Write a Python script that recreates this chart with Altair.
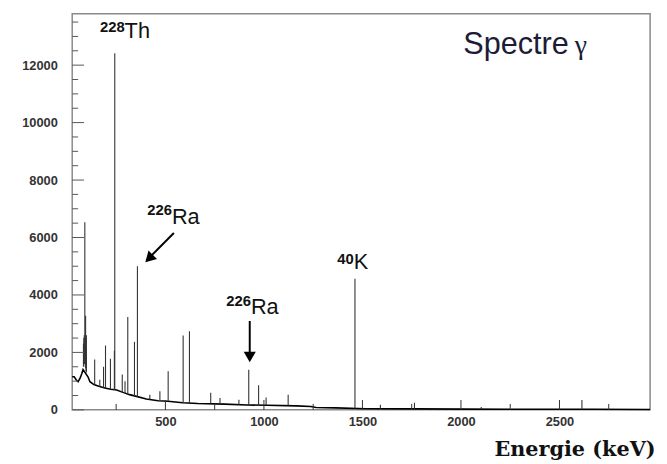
import altair as alt
import pandas as pd

# ---- continuum of the spectrum (energy keV, counts) ----
cont_E = [27, 37, 47, 57, 67, 75, 82, 107, 117, 137, 162, 192, 223, 253, 288, 318, 353,
          403, 463, 513, 588, 664, 800, 914, 1015, 1165, 1238, 1265, 1365, 1515, 1767,
          2017, 2418, 2669, 2960]
cont_counts = [1150, 1150, 1050, 980, 1100, 1250, 1400, 1150, 980, 880, 820, 760, 720, 690,
               600, 530, 470, 380, 320, 300, 250, 220, 200, 170, 160, 140, 120, 80, 70, 40,
               35, 25, 20, 20, 15]

# ---- peaks: energy, top, continuum level under it ----
peak_E = [84, 86, 88, 91, 93, 95, 97, 99, 141, 167, 186, 196, 221, 243, 241, 281, 295, 309,
          343, 358, 421, 472, 514, 590, 622, 730, 777, 873, 923, 973, 1011, 1123, 1462, 1591,
          1764, 2103, 2614]
peak_top = [2300, 2500, 2600, 6530, 2500, 3280, 2200, 2600, 1750, 1050, 1500, 2240, 1780,
            12410, 2060, 1230, 1000, 3230, 2370, 5000, 530, 650, 1340, 2590, 2740, 600, 410,
            355, 1400, 860, 430, 530, 4560, 180, 250, 100, 340]
peak_base = [1500, 1600, 1600, 1600, 1500, 1450, 1350, 1300, 870, 810, 770, 760, 720, 700,
             700, 600, 580, 540, 480, 460, 370, 320, 300, 250, 240, 210, 200, 175, 170, 165,
             160, 145, 45, 40, 35, 25, 20]

# ---- axis ticks ----
y_major = [0, 2000, 4000, 6000, 8000, 10000, 12000]
y_minor = [500, 1000, 1500, 2500, 3000, 3500, 4500, 5000, 5500, 6500, 7000, 7500, 8500,
           9000, 9500, 10500, 11000, 11500, 12500, 13000, 13500]
x_major = [500, 1000, 1500, 2000, 2500]
x_minor = [250, 750, 1250, 1750, 2250, 2750]

# ---- annotations ----
iso_E = [293, 533, 934, 1456]
iso_sup_v = [13160, 6774, 3611, 5089]
iso_main_v = [12940, 6465, 3336, 4907]
iso_sup = ["228", "226", "226", "40"]
iso_main = ["Th", "Ra", "Ra", "K"]

title_E = [2012]
title_v = [12380]
gamma_E = [2578]

# arrows: shaft start/end and head
arr1_E = [543, 404]
arr1_v = [6155, 5200]
arr1_head_E = [417]
arr1_head_v = [5268]
arr2_E = [928, 928]
arr2_v = [3095, 1960]
arr2_head_E = [928]
arr2_head_v = [1840]

W, H = 585, 401
xsc = alt.Scale(domain=[27, 2960], nice=False, zero=False)
ysc = alt.Scale(domain=[0, 13790], nice=False, zero=False)

xaxis = alt.Axis(values=x_major, format="d", ticks=False, domain=False, grid=False,
                 labelFont="Liberation Sans", labelFontSize=13, labelFontWeight="bold",
                 labelColor="#333333", labelPadding=6,
                 title="Energie (keV)", titleFont="DejaVu Serif", titleFontSize=21,
                 titleFontWeight="bold", titleColor="#111111", titleAlign="right",
                 titleAnchor="end", titleX=590, titleY=40, titleBaseline="middle")
yaxis = alt.Axis(values=y_major, format="d", ticks=False, domain=False, grid=False,
                 labelFont="Liberation Sans", labelFontSize=13, labelFontWeight="bold",
                 labelColor="#333333", labelPadding=15, title=None)

cont_df = pd.DataFrame({"E": cont_E, "c": cont_counts})
peak_df = pd.DataFrame({"E": peak_E, "top": peak_top, "base": peak_base})

X = lambda f: alt.X(f, type="quantitative", scale=xsc, axis=xaxis)
Y = lambda f: alt.Y(f, type="quantitative", scale=ysc, axis=yaxis)

continuum = alt.Chart(cont_df).mark_line(color="black", strokeWidth=1.6).encode(
    x=X("E"), y=Y("c"))
peaks = alt.Chart(peak_df).mark_rule(color="#333333", strokeWidth=1.1).encode(
    x=X("E"), y=Y("base"), y2="top")

ymaj = alt.Chart(pd.DataFrame({"v": y_major})).mark_rule(color="#555555", strokeWidth=1).encode(
    y=Y("v"), x=alt.value(0), x2=alt.value(12))
ymin = alt.Chart(pd.DataFrame({"v": y_minor})).mark_rule(color="#555555", strokeWidth=1).encode(
    y=Y("v"), x=alt.value(0), x2=alt.value(6))
xmaj = alt.Chart(pd.DataFrame({"e": x_major})).mark_rule(color="#333333", strokeWidth=1).encode(
    x=X("e"), y=alt.value(H), y2=alt.value(H - 10))
xmin = alt.Chart(pd.DataFrame({"e": x_minor})).mark_rule(color="#333333", strokeWidth=1).encode(
    x=X("e"), y=alt.value(H), y2=alt.value(H - 6))

iso_df = pd.DataFrame({"E": iso_E, "sv": iso_sup_v, "mv": iso_main_v,
                       "sup": iso_sup, "main": iso_main})
sup_txt = alt.Chart(iso_df).mark_text(font="Liberation Sans", fontSize=15, fontWeight="bold",
                                      align="right", baseline="alphabetic", color="#111111").encode(
    x=X("E"), y=Y("sv"), text="sup")
main_txt = alt.Chart(iso_df).mark_text(font="Liberation Sans", fontSize=22,
                                       align="left", baseline="alphabetic", color="#111111").encode(
    x=X("E"), y=Y("mv"), text="main")

spectre = alt.Chart(pd.DataFrame({"E": title_E, "v": title_v, "t": ["Spectre"]})).mark_text(
    font="Liberation Sans", fontSize=31, align="left", baseline="alphabetic",
    color="#1c1c38").encode(x=X("E"), y=Y("v"), text="t")
gamma = alt.Chart(pd.DataFrame({"E": gamma_E, "v": title_v, "t": ["γ"]})).mark_text(
    font="Liberation Serif", fontSize=28, align="left", baseline="alphabetic",
    color="#1c1c38").encode(x=X("E"), y=Y("v"), text="t")

a1 = alt.Chart(pd.DataFrame({"E": arr1_E, "v": arr1_v})).mark_line(
    color="black", strokeWidth=2).encode(x=X("E"), y=Y("v"))
a1h = alt.Chart(pd.DataFrame({"E": arr1_head_E, "v": arr1_head_v})).mark_point(
    shape="triangle-up", angle=225, size=150, filled=True, color="black", opacity=1).encode(
    x=X("E"), y=Y("v"))
a2 = alt.Chart(pd.DataFrame({"E": arr2_E, "v": arr2_v})).mark_line(
    color="black", strokeWidth=2).encode(x=X("E"), y=Y("v"))
a2h = alt.Chart(pd.DataFrame({"E": arr2_head_E, "v": arr2_head_v})).mark_point(
    shape="triangle-down", size=150, filled=True, color="black", opacity=1).encode(
    x=X("E"), y=Y("v"))

chart = alt.layer(
    continuum, peaks, ymaj, ymin, xmaj, xmin, sup_txt, main_txt, spectre, gamma,
    a1, a1h, a2, a2h
).properties(
    width=W, height=H,
    autosize=alt.AutoSizeParams(type="none"),
    padding={"left": 65, "top": 3, "right": 9, "bottom": 52},
    background="white",
).configure_view(stroke="#8a8a8a", strokeWidth=1.5)

chart.save("out.html", embed_options={"renderer": "svg", "actions": False})
